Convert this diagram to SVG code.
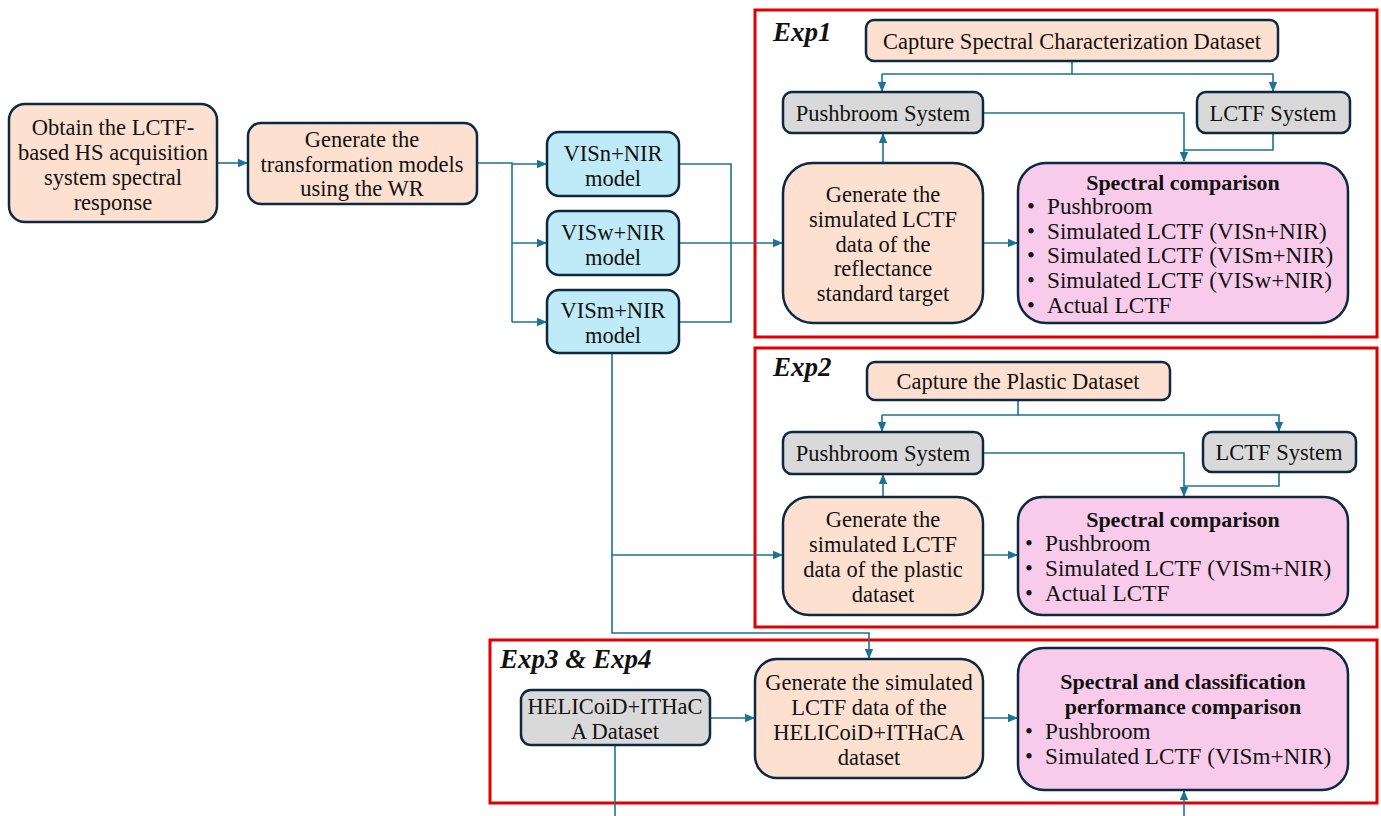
<svg xmlns="http://www.w3.org/2000/svg" width="1381" height="816" viewBox="0 0 1381 816">
<style>
text{font-family:"Liberation Serif","Times New Roman",serif;font-size:22.5px;fill:#111;dominant-baseline:central}
.c{text-anchor:middle}
.bl{font-size:23.2px}
.b{font-weight:bold;font-size:22px}
.exp{font-weight:bold;font-style:italic;font-size:27px;dominant-baseline:auto}
.peach{fill:#fde0d0;stroke:#0e2841;stroke-width:2.5}
.blue{fill:#bfeaf8;stroke:#0e2841;stroke-width:2.5}
.gray{fill:#d9d9d9;stroke:#0e2841;stroke-width:2.5}
.pink{fill:#f8cbeb;stroke:#0e2841;stroke-width:2.5}
.red{fill:none;stroke:#e00000;stroke-width:3}
.ln{fill:none;stroke:#1d7394;stroke-width:1.6}
.ar{marker-end:url(#ah)}
</style>
<defs>
<marker id="ah" markerWidth="10" markerHeight="10" refX="9" refY="5" orient="auto" markerUnits="userSpaceOnUse">
<path d="M0,0.8 L10,5 L0,9.2 Z" fill="#1d7394"/>
</marker>
</defs>
<rect width="1381" height="816" fill="#fff"/>

<!-- experiment frames -->
<g id="exp1-frame"><rect class="red" x="755" y="10" width="622" height="327"/><text class="exp" x="773" y="41">Exp1</text></g>
<g id="exp2-frame"><rect class="red" x="755" y="348" width="622" height="279"/><text class="exp" x="773" y="376">Exp2</text></g>
<g id="exp3-frame"><rect class="red" x="490" y="640" width="887" height="163"/><text class="exp" x="500" y="668">Exp3 &amp; Exp4</text></g>

<g id="connectors">
<path class="ln ar" d="M217,163 H247"/>
<path class="ln" d="M477,163 H512 V322"/>
<path class="ln ar" d="M512,164 H546"/>
<path class="ln ar" d="M512,243 H546"/>
<path class="ln ar" d="M512,322 H546"/>
<path class="ln" d="M679,164 H731 V322 H679"/>
<path class="ln ar" d="M679,243 H782"/>
<path class="ln ar" d="M612,353 V555 H782"/>
<path class="ln ar" d="M612,555 V633 H869 V658"/>
<!-- Exp1 -->
<path class="ln" d="M1072,61 V74 H882"/>
<path class="ln ar" d="M882,74 V91"/>
<path class="ln ar" d="M1072,74 H1273 V91"/>
<path class="ln ar" d="M883,163 V134"/>
<path class="ln ar" d="M983,113 H1184 V161"/>
<path class="ln" d="M1273,133 V150 H1184"/>
<path class="ln ar" d="M983,243 H1017"/>
<!-- Exp2 -->
<path class="ln" d="M1018,400 V415 H882"/>
<path class="ln ar" d="M882,415 V431"/>
<path class="ln ar" d="M1018,415 H1279 V431"/>
<path class="ln ar" d="M883,497 V475"/>
<path class="ln ar" d="M983,453 H1184 V496"/>
<path class="ln" d="M1279,472 V486 H1184"/>
<path class="ln ar" d="M983,555 H1017"/>
<!-- Exp3 -->
<path class="ln ar" d="M710,718 H754"/>
<path class="ln ar" d="M983,718 H1017"/>
<path class="ln" d="M615,745 V816"/>
<path class="ln ar" d="M1184,816 V791"/>
</g>

<g id="n-obtain"><rect class="peach" x="9" y="104" width="208" height="118" rx="16"/>
<text class="c" x="113" y="127">Obtain the LCTF-</text><text class="c" x="113" y="152">based HS acquisition</text><text class="c" x="113" y="177">system spectral</text><text class="c" x="113" y="202">response</text></g>

<g id="n-generate-models"><rect class="peach" x="248" y="123" width="229" height="81" rx="13"/>
<text class="c" x="362" y="139">Generate the</text><text class="c" x="362" y="164">transformation models</text><text class="c" x="362" y="188">using the WR</text></g>

<g id="n-visn"><rect class="blue" x="547" y="132" width="132" height="64" rx="12"/>
<text class="c" x="613" y="153">VISn+NIR</text><text class="c" x="613" y="178">model</text></g>
<g id="n-visw"><rect class="blue" x="547" y="211" width="132" height="64" rx="12"/>
<text class="c" x="613" y="232">VISw+NIR</text><text class="c" x="613" y="257">model</text></g>
<g id="n-vism"><rect class="blue" x="547" y="290" width="132" height="63" rx="12"/>
<text class="c" x="613" y="310">VISm+NIR</text><text class="c" x="613" y="335">model</text></g>

<!-- Exp1 nodes -->
<g id="e1-capture"><rect class="peach" x="866" y="20" width="412" height="41" rx="8"/>
<text class="c" x="1072" y="41">Capture Spectral Characterization Dataset</text></g>
<g id="e1-pushbroom"><rect class="gray" x="783" y="92" width="200" height="41" rx="9"/>
<text class="c" x="883" y="113">Pushbroom System</text></g>
<g id="e1-lctf"><rect class="gray" x="1197" y="92" width="153" height="41" rx="9"/>
<text class="c" x="1273" y="113">LCTF System</text></g>
<g id="e1-generate"><rect class="peach" x="783" y="163" width="200" height="160" rx="30"/>
<text class="c" x="883" y="194">Generate the</text><text class="c" x="883" y="219">simulated LCTF</text><text class="c" x="883" y="244">data of the</text><text class="c" x="883" y="268">reflectance</text><text class="c" x="883" y="293">standard target</text></g>
<g id="e1-compare"><rect class="pink" x="1018" y="163" width="330" height="160" rx="28"/>
<text class="c b" x="1183" y="182">Spectral comparison</text>
<text x="1027" y="206">•</text><text class="bl" x="1047" y="206">Pushbroom</text>
<text x="1027" y="231">•</text><text class="bl" x="1047" y="231">Simulated LCTF (VISn+NIR)</text>
<text x="1027" y="255">•</text><text class="bl" x="1047" y="255">Simulated LCTF (VISm+NIR)</text>
<text x="1027" y="280">•</text><text class="bl" x="1047" y="280">Simulated LCTF (VISw+NIR)</text>
<text x="1027" y="305">•</text><text class="bl" x="1047" y="305">Actual LCTF</text></g>

<!-- Exp2 nodes -->
<g id="e2-capture"><rect class="peach" x="867" y="362" width="303" height="38" rx="8"/>
<text class="c" x="1018" y="381">Capture the Plastic Dataset</text></g>
<g id="e2-pushbroom"><rect class="gray" x="783" y="432" width="200" height="42" rx="9"/>
<text class="c" x="883" y="453">Pushbroom System</text></g>
<g id="e2-lctf"><rect class="gray" x="1203" y="432" width="153" height="40" rx="9"/>
<text class="c" x="1279" y="452">LCTF System</text></g>
<g id="e2-generate"><rect class="peach" x="783" y="497" width="200" height="118" rx="26"/>
<text class="c" x="883" y="519">Generate the</text><text class="c" x="883" y="544">simulated LCTF</text><text class="c" x="883" y="569">data of the plastic</text><text class="c" x="883" y="594">dataset</text></g>
<g id="e2-compare"><rect class="pink" x="1018" y="497" width="330" height="118" rx="24"/>
<text class="c b" x="1183" y="519">Spectral comparison</text>
<text x="1025" y="543">•</text><text class="bl" x="1045" y="543">Pushbroom</text>
<text x="1025" y="568">•</text><text class="bl" x="1045" y="568">Simulated LCTF (VISm+NIR)</text>
<text x="1025" y="593">•</text><text class="bl" x="1045" y="593">Actual LCTF</text></g>

<!-- Exp3 nodes -->
<g id="e3-dataset"><rect class="gray" x="521" y="690" width="189" height="55" rx="10"/>
<text class="c" x="615" y="706">HELICoiD+ITHaC</text><text class="c" x="615" y="731">A Dataset</text></g>
<g id="e3-generate"><rect class="peach" x="755" y="659" width="228" height="119" rx="22"/>
<text class="c" x="869" y="682">Generate the simulated</text><text class="c" x="869" y="707">LCTF data of the</text><text class="c" x="869" y="732">HELICoiD+ITHaCA</text><text class="c" x="869" y="757">dataset</text></g>
<g id="e3-compare"><rect class="pink" x="1018" y="648" width="330" height="142" rx="26"/>
<text class="c b" x="1183" y="681">Spectral and classification</text><text class="c b" x="1183" y="706">performance comparison</text>
<text x="1025" y="731">•</text><text class="bl" x="1045" y="731">Pushbroom</text>
<text x="1025" y="756">•</text><text class="bl" x="1045" y="756">Simulated LCTF (VISm+NIR)</text></g>
</svg>
